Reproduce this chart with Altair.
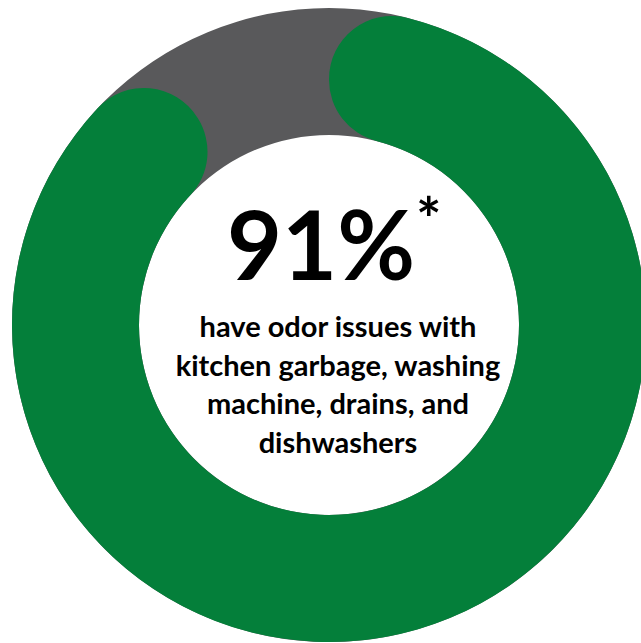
import altair as alt
import pandas as pd

# ---- data ----
segments = ["Have odor issues", "No odor issues"]
shares = [91, 9]
headline = "91%"
footnote_mark = "*"
caption_lines = [
    "have odor issues with",
    "kitchen garbage, washing",
    "machine, drains, and",
    "dishwashers",
]

GREEN = "#047F3A"
GRAY = "#59595B"
FONT = "Lato"

total = sum(shares)
ring_df = pd.DataFrame({"start": [0], "end": [total]})
main_df = pd.DataFrame({"segment": [segments[0]], "start": [0], "end": [shares[0]]})

theta_scale = alt.Scale(domain=[0, total], range=[0, 6.283185307179586])
CX, CY = 329, 325
R_OUT, R_IN = 317, 190

gray = alt.Chart(ring_df).mark_arc(radius=R_OUT, radius2=R_IN, color=GRAY).encode(
    theta=alt.Theta("start:Q", scale=theta_scale),
    theta2="end:Q",
    x=alt.value(CX),
    y=alt.value(CY),
)

green = alt.Chart(main_df).mark_arc(
    radius=R_OUT, radius2=R_IN, cornerRadius=63, color=GREEN
).encode(
    theta=alt.Theta("start:Q", scale=theta_scale),
    theta2="end:Q",
    x=alt.value(CX),
    y=alt.value(CY),
)

big = alt.Chart(pd.DataFrame({"t": [headline]})).mark_text(
    font=FONT, fontWeight="bold", fontSize=95, color="black",
    align="center", baseline="alphabetic",
).encode(text="t:N", x=alt.value(321), y=alt.value(280))

star = alt.Chart(pd.DataFrame({"t": [footnote_mark]})).mark_text(
    font=FONT, fontWeight="bold", fontSize=60, color="black",
    align="left", baseline="alphabetic",
).encode(text="t:N", x=alt.value(416), y=alt.value(241))

caption = alt.Chart(pd.DataFrame({"i": [0]})).mark_text(
    font=FONT, fontWeight="bold", fontSize=29, color="black",
    align="center", baseline="alphabetic", lineHeight=38.5,
    text=caption_lines,
).encode(x=alt.value(338), y=alt.value(337))

chart = (
    alt.layer(gray, green, big, star, caption)
    .properties(width=641, height=643, padding=0, autosize=alt.AutoSizeParams(type="none"), background="white")
    .configure_view(stroke=None)
)

chart.save("out.html", embed_options={"renderer": "svg", "actions": False})
